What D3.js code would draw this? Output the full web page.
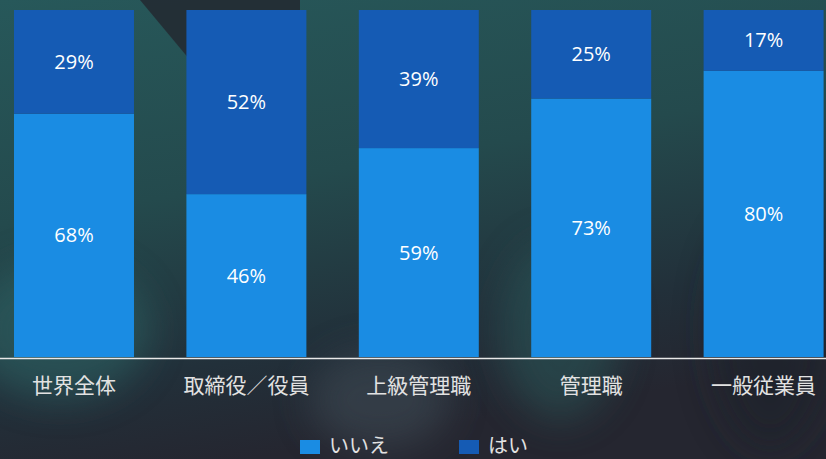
<!DOCTYPE html>
<html><head><meta charset="utf-8">
<script src="https://cdn.jsdelivr.net/npm/d3@7"></script>
<style>
html,body{margin:0;padding:0;background:#23292f;}
svg{display:block;}
</style></head>
<body>
<svg id="chart" width="826" height="459"></svg>
<script>
const categories = ["世界全体","取締役／役員","上級管理職","管理職","一般従業員"];
const seriesNames = ["いいえ","はい"];
const noValues = [68,46,59,73,80];
const yesValues = [29,52,39,25,17];
const colors = ["#1a8ce3","#155bb4"];

(function(){
const W = 826, H = 459;
const svg = d3.select("#chart");
const defs = svg.append("defs");

// background approximation
const g1 = defs.append("linearGradient").attr("id","bg").attr("x1","0").attr("y1","0").attr("x2","0.3").attr("y2","1");
g1.append("stop").attr("offset","0").attr("stop-color","#27585a");
g1.append("stop").attr("offset","0.45").attr("stop-color","#244a4d");
g1.append("stop").attr("offset","0.8").attr("stop-color","#22303a");
g1.append("stop").attr("offset","1").attr("stop-color","#252630");
svg.append("rect").attr("width",W).attr("height",H).attr("fill","url(#bg)");
const blur = defs.append("filter").attr("id","blur").attr("x","-50%").attr("y","-50%").attr("width","200%").attr("height","200%");
blur.append("feGaussianBlur").attr("stdDeviation",18);
svg.append("polygon").attr("points","140,0 300,0 300,120 190,60").attr("fill","#232b33").attr("opacity",0.9);
svg.append("ellipse").attr("cx",60).attr("cy",330).attr("rx",90).attr("ry",70).attr("fill","#2f6b6a").attr("opacity",0.5).attr("filter","url(#blur)");
svg.append("ellipse").attr("cx",380).attr("cy",400).attr("rx",70).attr("ry",50).attr("fill","#3d4852").attr("opacity",0.6).attr("filter","url(#blur)");
svg.append("ellipse").attr("cx",770).attr("cy",330).attr("rx",60).attr("ry",120).attr("fill","#1f2229").attr("opacity",0.6).attr("filter","url(#blur)");
svg.append("ellipse").attr("cx",560).attr("cy",330).attr("rx",60).attr("ry",90).attr("fill","#2a5c5c").attr("opacity",0.5).attr("filter","url(#blur)");

const plotTop = 10, base = 357;
const x = d3.scaleBand().domain(categories).range([14,823.6]).paddingInner(0.304).paddingOuter(0);
const y = d3.scaleLinear().domain([0,1]).range([base, plotTop]);

const rows = categories.map((c,i)=>({cat:c, "いいえ":noValues[i], "はい":yesValues[i]}));
const stack = d3.stack().keys(seriesNames).offset(d3.stackOffsetExpand);
const series = stack(rows);

const gs = svg.append("g").selectAll("g").data(series).join("g").attr("fill",(d,i)=>colors[i]);
gs.selectAll("rect").data(d=>d).join("rect")
  .attr("x",d=>x(d.data.cat))
  .attr("width",x.bandwidth())
  .attr("y",d=>y(d[1]))
  .attr("height",d=>y(d[0])-y(d[1]));

const lg = svg.append("g");
series.forEach((s,si)=>{
  lg.selectAll(null).data(s).join("text")
    .attr("x",d=>x(d.data.cat)+x.bandwidth()/2)
    .attr("y",d=>(y(d[0])+y(d[1]))/2)
    .attr("dy","0.35em")
    .attr("text-anchor","middle")
    .attr("fill","#ffffff")
    .attr("font-family","'Open Sans','Noto Sans',sans-serif")
    .attr("font-size",20)
    .text(d=>d.data[seriesNames[si]]+"%");
});

// axis
const axis = d3.axisBottom(x).tickSize(0).tickPadding(20);
const ax = svg.append("g").attr("transform",`translate(0,${base+1})`).call(axis);
ax.select(".domain").remove();
svg.append("line").attr("x1",0).attr("x2",W).attr("y1",base+1.5).attr("y2",base+1.5).attr("stroke","#e8e8e8").attr("stroke-width",1.5);
ax.selectAll("text").attr("fill","#e2e2e2").attr("font-size",21)
  .attr("font-family","'Noto Sans CJK JP',sans-serif");

// legend
const legendX = [300, 459];
const leg = svg.append("g");
seriesNames.forEach((n,i)=>{
  leg.append("rect").attr("x",legendX[i]).attr("y",440).attr("width",20).attr("height",14).attr("fill",colors[i]);
  leg.append("text").attr("x",legendX[i]+29).attr("y",446).attr("dy","0.35em")
    .attr("fill","#e2e2e2").attr("font-size",20)
    .attr("font-family","'Noto Sans CJK JP',sans-serif").text(n);
});
})();
</script>
</body></html>
